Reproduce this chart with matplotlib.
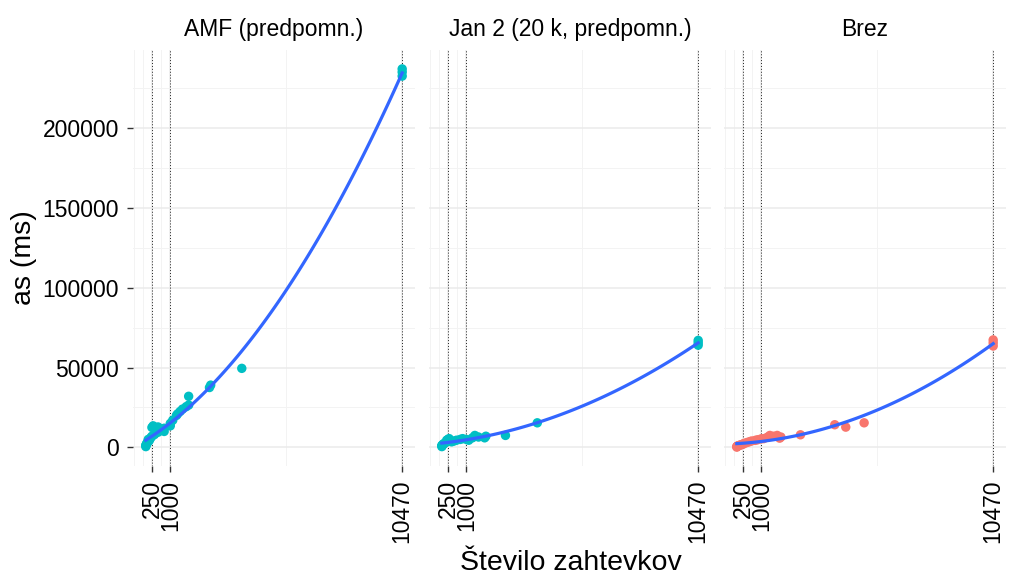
"""Čas odziva glede na število zahtevkov, tri variante (facete)."""
import numpy as np
import matplotlib

matplotlib.use("Agg")
import matplotlib.pyplot as plt  # noqa: E402

plt.rcParams["font.family"] = ["Liberation Sans", "DejaVu Sans"]

panel_titles = ["AMF (predpomn.)", "Jan 2 (20 k, predpomn.)", "Brez"]
x_breaks = [250, 1000, 10470]

amf_x = [1, 1, 10, 25, 50, 100, 100, 150, 200, 250, 250, 300, 350, 400, 500, 500,
         600, 750, 750, 1000, 1000, 1100, 1250, 1300, 1400, 1500, 1650, 1750, 1750,
         2600, 2650, 3920, 10470, 10470, 10470]
amf_y = [500, 1200, 1500, 2000, 2800, 3500, 5000, 4500, 6000, 7000, 12500, 13500,
         8000, 9000, 9500, 12800, 11000, 10000, 12000, 13500, 15000, 17000, 20000,
         21000, 22500, 24000, 25500, 26500, 32000, 37500, 39000, 49500, 232500,
         235000, 237000]

jan_x = [1, 1, 10, 25, 50, 100, 150, 200, 250, 300, 400, 500, 600, 750, 850, 1000,
         1100, 1250, 1350, 1500, 1750, 1800, 2600, 3900, 10470, 10470, 10470]
jan_y = [500, 1200, 1000, 1500, 2000, 2500, 3000, 4500, 5000, 5500, 3500, 4000,
         4500, 5000, 5500, 5000, 4500, 6000, 7500, 6500, 6000, 7000, 7500, 15400,
         64000, 65500, 67000]

brez_x = [1, 1, 10, 25, 50, 100, 150, 200, 250, 300, 400, 500, 600, 750, 850, 1000,
          1100, 1250, 1350, 1500, 1650, 1750, 1800, 2600, 4000, 4450, 5200, 10470,
          10470, 10470]
brez_y = [200, 500, 600, 800, 1000, 1300, 1500, 1800, 2000, 2500, 3000, 3500, 4000,
          4400, 4800, 5400, 5500, 6400, 7500, 7000, 7500, 5800, 6500, 7900, 14200,
          12700, 15400, 63500, 65500, 67300]

panels = [(amf_x, amf_y, "#00BFC4"), (jan_x, jan_y, "#00BFC4"), (brez_x, brez_y, "#F8766D")]

all_x = np.concatenate([amf_x, jan_x, brez_x])
all_y = np.concatenate([amf_y, jan_y, brez_y])
xr = all_x.max() - all_x.min()
yr = all_y.max() - all_y.min()
xlim = (all_x.min() - 0.05 * xr, all_x.max() + 0.05 * xr)
ylim = (all_y.min() - 0.05 * yr, all_y.max() + 0.05 * yr)

fig = plt.figure(figsize=(10.15, 5.77), dpi=100)
lefts = [133, 429, 724]
for i, (px, py, col) in enumerate(panels):
    ax = fig.add_axes([lefts[i] / 1015, 111 / 577, 282 / 1015, 416 / 577])
    for s in ax.spines.values():
        s.set_visible(False)
    ax.set_xlim(xlim)
    ax.set_ylim(ylim)
    ax.set_xticks(x_breaks)
    ax.set_xticks([-500, -125, 625, 5735], minor=True)
    ax.set_yticks([0, 50000, 100000, 150000, 200000])
    ax.set_yticks([25000, 75000, 125000, 175000, 225000], minor=True)
    ax.grid(True, which="major", color="#EBEBEB", linewidth=1.1)
    ax.grid(True, which="minor", color="#F3F3F3", linewidth=0.7)
    ax.set_axisbelow(True)
    ax.tick_params(which="minor", length=0)
    ax.tick_params(axis="x", which="major", length=4, width=1, color="#333333",
                   labelsize=16.5, labelrotation=90, pad=6)
    ax.tick_params(axis="y", which="major", length=4, width=1, color="#333333",
                   labelsize=16.5, pad=6)
    if i > 0:
        ax.tick_params(axis="y", which="major", length=0, labelleft=False)
    for b in x_breaks:
        ax.axvline(b, color="#222222", linewidth=0.7, linestyle=(0, (1, 2)), zorder=1)
    ax.scatter(px, py, s=46, color=col, edgecolors="none", zorder=2)
    # glajenje: kvadratni polinom po najmanjših kvadratih
    coef = np.polyfit(px, py, 2)
    grid = np.linspace(min(px), max(px), 120)
    ax.plot(grid, np.polyval(coef, grid), color="#3366FF", linewidth=2.3, zorder=3)
    ax.set_title(panel_titles[i], fontsize=16.5, pad=10)

fig.text(0.024, (111 + 208) / 577, "as (ms)", rotation=90, ha="center", va="center", fontsize=20.5)
fig.text(0.562, 0.025, "Število zahtevkov", ha="center", va="center", fontsize=20.5)

fig.savefig("out.png", dpi=100)
